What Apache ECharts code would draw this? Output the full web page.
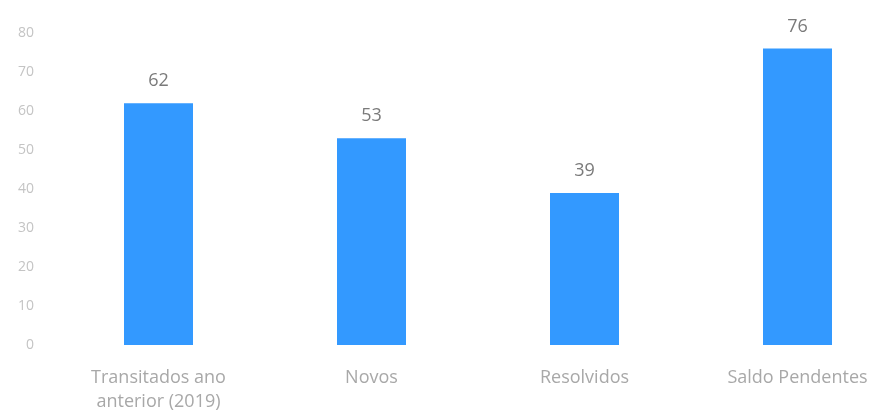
<!DOCTYPE html>
<html><head><meta charset="utf-8">
<script src="https://cdn.jsdelivr.net/npm/echarts@6/dist/echarts.min.js"></script>
<style>html,body{margin:0;padding:0;background:#fff}#c{width:873px;height:410px}</style>
</head><body><div id="c"></div>
<script>
const categories = ['Transitados ano\nanterior (2019)', 'Novos', 'Resolvidos', 'Saldo Pendentes'];
const values = [62, 53, 39, 76];
const yTicks = {min: 0, max: 80, interval: 10};

const chart = echarts.init(document.getElementById('c'));
chart.setOption({
  animation: false,
  grid: {left: 52, top: 33, width: 852, height: 312, containLabel: false, outerBoundsMode: 'none'},
  xAxis: {
    type: 'category', data: categories,
    axisLine: {show: false}, axisTick: {show: false},
    axisLabel: {color: '#a8a8a8', fontSize: 18, fontFamily: 'Open Sans', margin: 21, lineHeight: 24, interval: 0}
  },
  yAxis: {
    type: 'value', min: yTicks.min, max: yTicks.max, interval: yTicks.interval,
    splitLine: {show: false}, axisLine: {show: false}, axisTick: {show: false},
    axisLabel: {color: '#c4c4c4', fontSize: 14, fontFamily: 'Open Sans', margin: 18}
  },
  series: [{
    type: 'bar', data: values, barWidth: 69,
    itemStyle: {color: '#3399ff'},
    label: {show: true, position: 'top', distance: 13, color: '#7a7a7a', fontSize: 18, fontFamily: 'Open Sans'}
  }]
});
</script></body></html>
